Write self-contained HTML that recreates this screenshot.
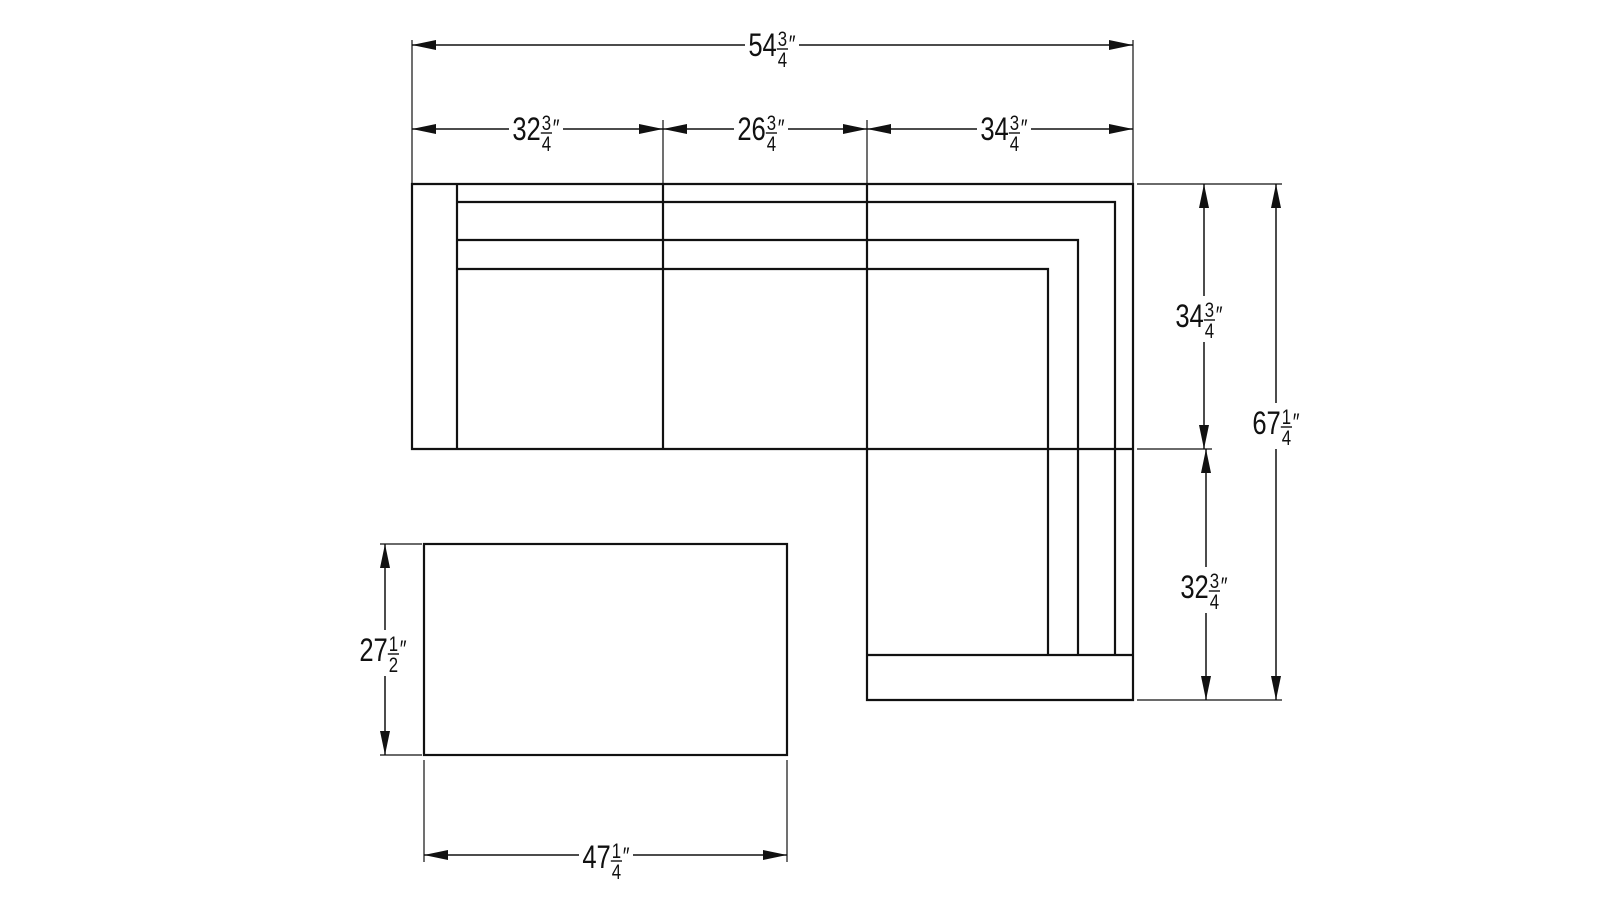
<!DOCTYPE html>
<html><head><meta charset="utf-8"><style>
html,body{margin:0;padding:0;background:#fff;}
svg{display:block;}
text{font-family:"Liberation Sans",sans-serif;fill:#111;}
</style></head><body>
<svg width="1600" height="900" viewBox="0 0 1600 900" xmlns="http://www.w3.org/2000/svg">
<defs>
<marker id="a" viewBox="0 0 24 10" refX="24" refY="5" markerWidth="24" markerHeight="10" markerUnits="userSpaceOnUse" orient="auto-start-reverse">
<path d="M0,0 L24,5 L0,10 z" fill="#111"/>
</marker>
</defs>
<g stroke="#111" fill="none">
<g stroke-width="1.2">
<line x1="412" y1="40" x2="412" y2="184"/>
<line x1="1133" y1="40" x2="1133" y2="184"/>
<line x1="663" y1="120" x2="663" y2="184"/>
<line x1="867" y1="120" x2="867" y2="184"/>
<line x1="1137" y1="184" x2="1282" y2="184"/>
<line x1="1137" y1="449" x2="1212" y2="449"/>
<line x1="1137" y1="700" x2="1282" y2="700"/>
<line x1="380" y1="544" x2="422" y2="544"/>
<line x1="380" y1="755" x2="422" y2="755"/>
<line x1="424" y1="760" x2="424" y2="862"/>
<line x1="787" y1="760" x2="787" y2="862"/>
</g>
<g stroke-width="1.5" marker-start="url(#a)" marker-end="url(#a)">
<line x1="412" y1="45" x2="1133" y2="45"/>
<line x1="412" y1="129" x2="663" y2="129"/>
<line x1="663" y1="129" x2="867" y2="129"/>
<line x1="867" y1="129" x2="1133" y2="129"/>
<line x1="1204" y1="184" x2="1204" y2="449"/>
<line x1="1206" y1="449" x2="1206" y2="700"/>
<line x1="1276" y1="184" x2="1276" y2="700"/>
<line x1="385" y1="544" x2="385" y2="755"/>
<line x1="424" y1="855" x2="787" y2="855"/>
</g>
<g stroke-width="2.2">
<path d="M412,184 H1133 V700 H867 V449 H412 Z"/>
<line x1="457" y1="184" x2="457" y2="449"/>
<line x1="663" y1="184" x2="663" y2="449"/>
<line x1="867" y1="184" x2="867" y2="449"/>
<path d="M457,202 H1115 V655"/>
<path d="M457,240 H1078 V655"/>
<path d="M457,269 H1048 V655"/>
<line x1="867" y1="449" x2="1133" y2="449"/>
<line x1="867" y1="655" x2="1133" y2="655"/>
<rect x="424" y="544" width="363" height="211"/>
</g>
</g>
<g>
<g transform="translate(772,45)">
<rect x="-27" y="-16" width="54" height="40" fill="#fff"/>
<g transform="scale(0.8,1)"><text x="6" y="11" font-size="32" text-anchor="end">54</text><text x="13" y="1" font-size="21" text-anchor="middle">3</text><line x1="6" y1="4" x2="20" y2="4" stroke="#111" stroke-width="1.4"/><text x="13" y="22" font-size="21" text-anchor="middle">4</text><text x="21" y="7" font-size="24">″</text></g></g>
<g transform="translate(536,129)">
<rect x="-27" y="-16" width="54" height="40" fill="#fff"/>
<g transform="scale(0.8,1)"><text x="6" y="11" font-size="32" text-anchor="end">32</text><text x="13" y="1" font-size="21" text-anchor="middle">3</text><line x1="6" y1="4" x2="20" y2="4" stroke="#111" stroke-width="1.4"/><text x="13" y="22" font-size="21" text-anchor="middle">4</text><text x="21" y="7" font-size="24">″</text></g></g>
<g transform="translate(761,129)">
<rect x="-27" y="-16" width="54" height="40" fill="#fff"/>
<g transform="scale(0.8,1)"><text x="6" y="11" font-size="32" text-anchor="end">26</text><text x="13" y="1" font-size="21" text-anchor="middle">3</text><line x1="6" y1="4" x2="20" y2="4" stroke="#111" stroke-width="1.4"/><text x="13" y="22" font-size="21" text-anchor="middle">4</text><text x="21" y="7" font-size="24">″</text></g></g>
<g transform="translate(1004,129)">
<rect x="-27" y="-16" width="54" height="40" fill="#fff"/>
<g transform="scale(0.8,1)"><text x="6" y="11" font-size="32" text-anchor="end">34</text><text x="13" y="1" font-size="21" text-anchor="middle">3</text><line x1="6" y1="4" x2="20" y2="4" stroke="#111" stroke-width="1.4"/><text x="13" y="22" font-size="21" text-anchor="middle">4</text><text x="21" y="7" font-size="24">″</text></g></g>
<g transform="translate(1199,316)">
<rect x="-27" y="-20" width="54" height="46" fill="#fff"/>
<g transform="scale(0.8,1)"><text x="6" y="11" font-size="32" text-anchor="end">34</text><text x="13" y="1" font-size="21" text-anchor="middle">3</text><line x1="6" y1="4" x2="20" y2="4" stroke="#111" stroke-width="1.4"/><text x="13" y="22" font-size="21" text-anchor="middle">4</text><text x="21" y="7" font-size="24">″</text></g></g>
<g transform="translate(1204,587)">
<rect x="-27" y="-20" width="54" height="46" fill="#fff"/>
<g transform="scale(0.8,1)"><text x="6" y="11" font-size="32" text-anchor="end">32</text><text x="13" y="1" font-size="21" text-anchor="middle">3</text><line x1="6" y1="4" x2="20" y2="4" stroke="#111" stroke-width="1.4"/><text x="13" y="22" font-size="21" text-anchor="middle">4</text><text x="21" y="7" font-size="24">″</text></g></g>
<g transform="translate(1276,423)">
<rect x="-27" y="-20" width="54" height="46" fill="#fff"/>
<g transform="scale(0.8,1)"><text x="6" y="11" font-size="32" text-anchor="end">67</text><text x="13" y="1" font-size="21" text-anchor="middle">1</text><line x1="6" y1="4" x2="20" y2="4" stroke="#111" stroke-width="1.4"/><text x="13" y="22" font-size="21" text-anchor="middle">4</text><text x="21" y="7" font-size="24">″</text></g></g>
<g transform="translate(383,650)">
<rect x="-27" y="-20" width="54" height="46" fill="#fff"/>
<g transform="scale(0.8,1)"><text x="6" y="11" font-size="32" text-anchor="end">27</text><text x="13" y="1" font-size="21" text-anchor="middle">1</text><line x1="6" y1="4" x2="20" y2="4" stroke="#111" stroke-width="1.4"/><text x="13" y="22" font-size="21" text-anchor="middle">2</text><text x="21" y="7" font-size="24">″</text></g></g>
<g transform="translate(606,857)">
<rect x="-27" y="-16" width="54" height="40" fill="#fff"/>
<g transform="scale(0.8,1)"><text x="6" y="11" font-size="32" text-anchor="end">47</text><text x="13" y="1" font-size="21" text-anchor="middle">1</text><line x1="6" y1="4" x2="20" y2="4" stroke="#111" stroke-width="1.4"/><text x="13" y="22" font-size="21" text-anchor="middle">4</text><text x="21" y="7" font-size="24">″</text></g></g>
</g>
</svg>
</body></html>
